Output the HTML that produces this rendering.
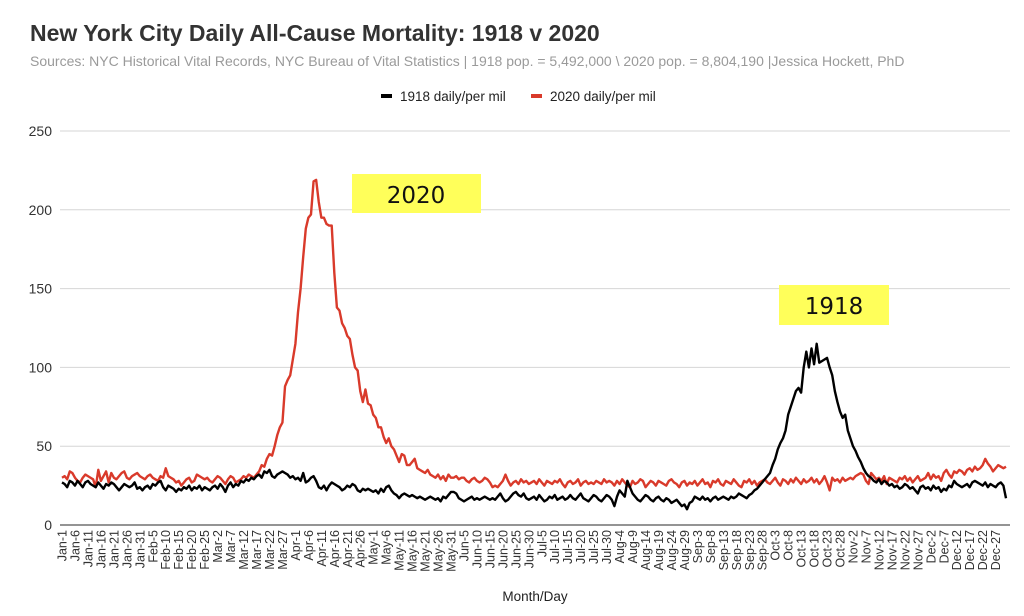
<!DOCTYPE html>
<html><head><meta charset="utf-8">
<style>
html,body{margin:0;padding:0;background:#fff;}
body{width:1024px;height:611px;overflow:hidden;font-family:"Liberation Sans",Arial,sans-serif;}
</style></head>
<body>
<svg id="chart" width="1024" height="611" xmlns="http://www.w3.org/2000/svg" font-family="Liberation Sans, Arial, sans-serif">
  <text x="30" y="41" font-size="23" font-weight="bold" fill="#333">New York City Daily All-Cause Mortality: 1918 v 2020</text>
  <text x="30" y="66" font-size="14" fill="#9a9a9a">Sources: NYC Historical Vital Records, NYC Bureau of Vital Statistics | 1918 pop. = 5,492,000 \ 2020 pop. = 8,804,190  |Jessica Hockett, PhD</text>
  <g>
    <g>
      <rect x="381" y="94" width="11" height="4" fill="#000"/>
      <text x="400" y="101" font-size="13.5" fill="#222">1918 daily/per mil</text>
    </g>
    <g>
      <rect x="531" y="94" width="11" height="4" fill="#d93a2b"/>
      <text x="550" y="101" font-size="13.5" fill="#222">2020 daily/per mil</text>
    </g>
  </g>
  <g id="grid"></g>
  <g id="yaxis"></g>
  <g id="xaxis"></g>
  <g id="series"></g>
  <g>
    <rect x="352" y="174" width="129" height="39" fill="#ffff5a"/>
    <text x="416" y="203" font-size="23" text-anchor="middle" fill="#111" font-family="DejaVu Sans, sans-serif">2020</text>
  </g>
  <g>
    <rect x="779" y="285" width="110" height="40" fill="#ffff5a"/>
    <text x="834" y="314" font-size="23" text-anchor="middle" fill="#111" font-family="DejaVu Sans, sans-serif">1918</text>
  </g>
  <text x="535" y="601" font-size="13.5" text-anchor="middle" fill="#222">Month/Day</text>
</svg>
<script>
const months = ["Jan","Feb","Mar","Apr","May","Jun","Jul","Aug","Sep","Oct","Nov","Dec"];
const monthDays = [31,28,31,30,31,30,31,31,30,31,30,31];
const yTicks = [0,50,100,150,200,250];
const red2020 = [
30,31,29,34,33,30,28,27,30,32,31,30,29,24,35,28,31,34,27,33,30,29,31,33,34,30,29,31,32,33,31,
30,29,31,32,30,29,28,31,30,36,31,30,29,27,28,25,27,29,30,27,28,32,31,30,29,30,28,27,
29,31,30,28,26,29,31,30,27,28,29,31,30,32,31,30,32,34,38,37,42,45,44,50,57,62,65,88,92,95,105,
115,135,150,170,188,195,197,218,219,205,195,195,191,190,190,160,138,136,128,125,120,118,108,100,98,85,78,86,77,76,
70,68,62,62,56,52,55,50,48,44,40,45,44,38,38,40,42,36,35,34,33,35,32,31,30,32,29,31,28,32,30,
30,31,29,30,30,28,27,29,30,28,27,28,30,29,27,24,25,24,26,28,32,28,25,27,28,26,29,27,28,26,
27,28,26,29,27,25,28,27,26,28,27,29,26,24,27,28,26,27,29,25,27,28,26,27,26,28,27,26,29,27,28,
27,25,28,26,29,27,25,24,28,26,27,29,28,24,26,28,27,25,28,27,26,25,28,29,27,26,24,27,28,25,27,
26,28,25,27,29,26,27,24,28,27,29,26,25,28,27,26,29,27,25,24,28,27,29,26,28,25,27,28,29,27,
26,28,30,27,25,29,28,26,29,27,30,28,26,29,27,28,30,27,29,26,28,31,27,22,30,28,29,27,30,28,29,
30,29,31,32,33,32,28,26,33,31,29,30,28,31,26,30,29,28,27,30,29,31,28,30,27,29,31,28,29,30,
33,29,32,30,31,28,33,35,32,30,34,33,35,34,32,35,36,34,37,35,36,38,42,39,37,34,36,38,37,36,37];
const black1918 = [
27,26,24,28,27,25,28,26,24,27,28,26,25,24,27,25,23,26,25,27,26,24,22,24,26,25,24,25,27,23,24,
22,24,25,23,26,25,27,28,24,22,25,24,23,21,23,22,24,23,25,22,24,23,25,22,24,23,22,24,
25,23,26,24,21,25,27,24,26,25,28,27,29,28,30,29,31,32,30,34,33,35,31,30,32,33,34,33,32,30,31,
29,30,28,33,27,28,30,31,28,24,23,25,22,25,27,26,25,24,22,23,25,24,26,25,22,21,23,22,23,22,
21,22,20,23,21,24,25,22,20,19,17,19,20,19,18,19,18,17,18,17,16,17,18,17,16,17,15,18,17,19,21,
21,20,17,16,15,16,17,18,16,17,16,17,18,17,16,17,16,18,20,17,15,16,18,20,21,19,18,20,17,16,
17,18,16,19,17,15,16,18,17,19,16,17,18,16,17,19,17,16,18,20,17,16,15,17,19,18,16,15,17,19,18,
16,12,18,22,20,18,28,24,20,18,16,15,17,19,18,16,15,17,18,16,15,17,16,14,15,16,14,12,13,10,14,
15,18,17,16,18,16,17,15,17,18,16,17,18,17,16,18,17,18,20,19,18,17,19,20,22,23,25,27,29,31,
33,38,42,48,52,55,60,70,75,80,85,87,84,100,110,100,112,102,115,103,104,105,106,100,95,85,78,72,68,70,60,
55,50,47,43,40,36,33,31,30,28,27,29,26,28,27,25,26,24,25,23,24,26,25,23,24,22,20,24,25,23,
24,22,25,23,24,21,23,22,25,24,28,26,25,24,25,26,24,27,28,27,26,25,27,24,26,25,24,26,27,25,17];

const NS="http://www.w3.org/2000/svg";
const X0=62, X1=1006, Y0=525, Y1=131, YMAX=250;
const nDays = monthDays.reduce((a,b)=>a+b,0);
function xs(i){return X0+(X1-X0)*i/(nDays-1);}
function ys(v){return Y0-(Y0-Y1)*v/YMAX;}
function mk(tag,attrs,parent){const e=document.createElementNS(NS,tag);for(const k in attrs)e.setAttribute(k,attrs[k]);parent.appendChild(e);return e;}

const grid=document.getElementById('grid'), yaxis=document.getElementById('yaxis'), xaxis=document.getElementById('xaxis'), series=document.getElementById('series');
yTicks.forEach(t=>{
  if(t>0){
    const l=mk('line',{x1:60,x2:1010,y1:ys(t),y2:ys(t),stroke:'#d6d6d6','stroke-width':1},grid);
    
    
  }
  const tx=mk('text',{x:52,y:ys(t)+5,'font-size':14,'text-anchor':'end',fill:'#333'},yaxis);
  
  
  tx.textContent=t;
});
const base=mk('line',{x1:60,x2:1010,y1:Y0,y2:Y0,stroke:'#555','stroke-width':1.2},xaxis);



const dayLabels=[];
months.forEach((m,mi)=>{for(let d=1;d<=monthDays[mi];d++)dayLabels.push(m+'-'+d);});
for(let i=0;i<nDays;i+=5){
  const x=xs(i)+4.5, y=Y0+5;
  const t=mk('text',{x:x,y:y,'font-size':12.5,'text-anchor':'end',fill:'#333',transform:`rotate(-90 ${x} ${y})`},xaxis);
  
  
  t.textContent=dayLabels[i];
}

function drawLine(arr,color,name){
  const d=arr.map((v,i)=>(i?'L':'M')+xs(i).toFixed(2)+' '+ys(v).toFixed(2)).join(' ');
  const p=mk('path',{d:d,fill:'none',stroke:color,'stroke-width':2.4,'stroke-linejoin':'round'},series);
  
  
}
drawLine(red2020,'#d93a2b','line-2020');
drawLine(black1918,'#000','line-1918');
</script>
</body></html>
